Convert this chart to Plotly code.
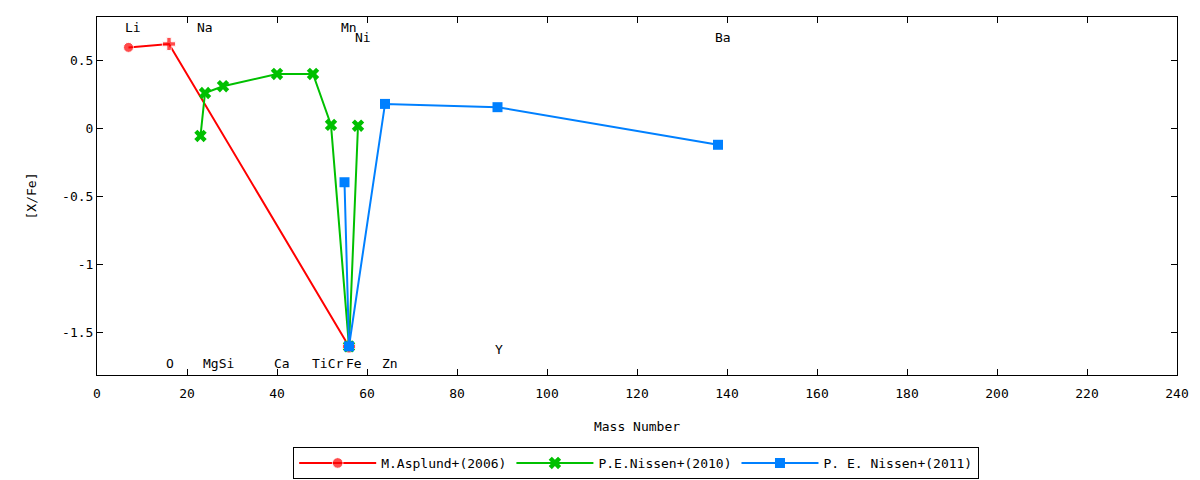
import plotly.graph_objects as go

# [X/Fe] abundance ratios vs mass number
asplund_mass = [7, 16, 56]
asplund_xfe = [0.595, 0.62, -1.6]

nissen10_mass = [23, 24, 28, 40, 48, 52, 56, 58]
nissen10_xfe = [-0.055, 0.26, 0.31, 0.40, 0.40, 0.026, -1.6, 0.02]

nissen11_mass = [55, 56, 64, 89, 138]
nissen11_xfe = [-0.395, -1.6, 0.18, 0.156, -0.12]

# element labels (name, x, y in data units)
label_names = ["Li", "Na", "Mn", "Ni", "Ba", "O", "MgSi", "Ca", "TiCr", "Fe", "Zn", "Y"]
label_x = [8.1, 24.1, 56.0, 59.2, 139.2, 16.3, 27.0, 41.2, 51.3, 57.2, 65.2, 89.4]
label_y = [0.74, 0.74, 0.74, 0.668, 0.668, -1.722, -1.722, -1.722, -1.722, -1.722, -1.722, -1.62]

ytick_vals = [0.5, 0, -0.5, -1, -1.5]
ytick_text = ["0.5", "0", "-0.5", "-1", "-1.5"]

FONT = "DejaVu Sans Mono"

fig = go.Figure()
fig.add_trace(go.Scatter(
    x=asplund_mass, y=asplund_xfe, mode="lines+markers", name="M.Asplund+(2006)",
    line=dict(color="#ff0000", width=2),
    marker=dict(color="#ff0000", size=[10, 11, 11], symbol=["circle", "cross", "cross"]),
))
fig.add_trace(go.Scatter(
    x=nissen10_mass, y=nissen10_xfe, mode="lines+markers", name="P.E.Nissen+(2010)",
    line=dict(color="#00c000", width=2),
    marker=dict(color="#00c000", size=11, symbol="x"),
))
fig.add_trace(go.Scatter(
    x=nissen11_mass, y=nissen11_xfe, mode="lines+markers", name="P. E. Nissen+(2011)",
    line=dict(color="#0080ff", width=2),
    marker=dict(color="#0080ff", size=10, symbol="square"),
))

for name, lx, ly in zip(label_names, label_x, label_y):
    fig.add_annotation(x=lx, y=ly, text=name, showarrow=False,
                       xanchor="center", yanchor="middle",
                       font=dict(family=FONT, size=13, color="black"))

fig.update_xaxes(
    range=[0, 240], dtick=20, tick0=0, ticks="inside", ticklen=6, tickcolor="black",
    showline=True, linecolor="black", linewidth=1, mirror="allticks",
    showgrid=False, zeroline=False, automargin=False, ticklabelstandoff=6,
    title=dict(text="Mass Number", standoff=22, font=dict(family=FONT, size=13)),
)
fig.update_yaxes(
    range=[-1.81, 0.818], tickvals=ytick_vals, ticktext=ytick_text,
    ticks="inside", ticklen=6, tickcolor="black",
    showline=True, linecolor="black", linewidth=1, mirror="allticks",
    showgrid=False, zeroline=False, automargin=False,
    title=dict(text="[X/Fe]", standoff=22, font=dict(family=FONT, size=13)),
)
fig.update_layout(
    width=1192, height=472,
    margin=dict(l=89, r=23, t=9, b=105),
    plot_bgcolor="white", paper_bgcolor="white",
    font=dict(family=FONT, size=13, color="black"),
    showlegend=True,
    legend=dict(orientation="h", x=0.527, xanchor="center", xref="container",
                y=0.036, yanchor="middle", yref="container",
                bordercolor="black", borderwidth=1, font=dict(family=FONT, size=13),
                itemwidth=77),
)

fig.write_html("out.html")
